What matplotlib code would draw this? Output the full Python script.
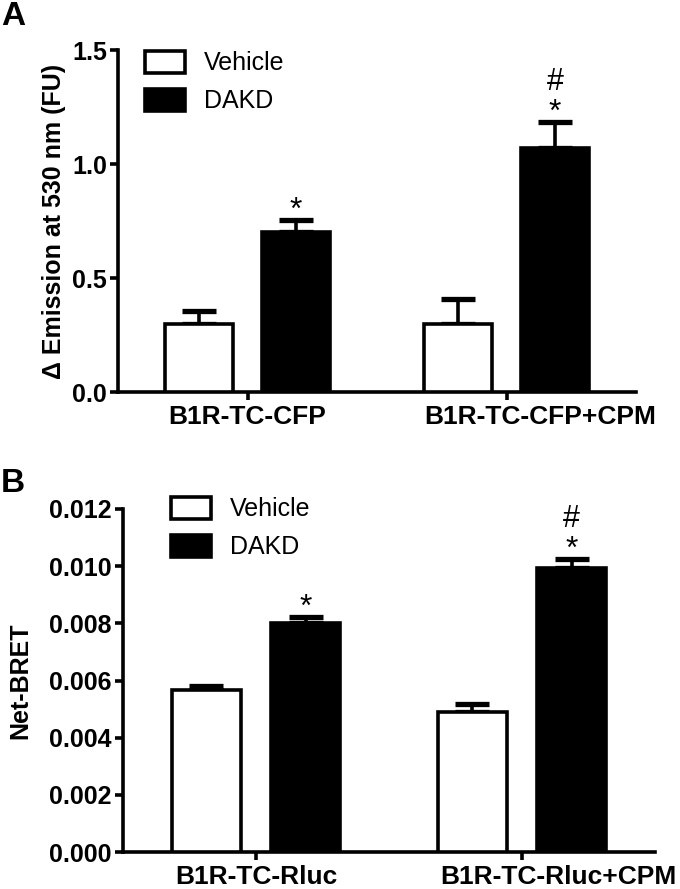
import numpy as np
import matplotlib
matplotlib.use('Agg')
import matplotlib.pyplot as plt
from matplotlib.patches import Patch
from matplotlib.transforms import ScaledTranslation

plt.rcParams['font.family'] = ['Liberation Sans', 'DejaVu Sans']

# panel A data
groups_a = ['B1R-TC-CFP', 'B1R-TC-CFP+CPM']
vehicle_a = [0.30, 0.30]
vehicle_a_err = [0.055, 0.11]
dakd_a = [0.70, 1.07]
dakd_a_err = [0.055, 0.115]
hash_a = [False, True]

# panel B data
groups_b = ['B1R-TC-Rluc', 'B1R-TC-Rluc+CPM']
vehicle_b = [0.00568, 0.00491]
vehicle_b_err = [0.00014, 0.00028]
dakd_b = [0.00800, 0.00995]
dakd_b_err = [0.00022, 0.00030]
hash_b = [False, True]

LW = 2.6
W = 0.26
OFF = 0.187


def draw_panel(fig, ax, groups, veh, veh_err, dak, dak_err, hashes, ylim, yticks, fmt,
               ylabel, labelpad, shift):
    x = np.arange(len(groups))
    ax.bar(x - OFF, veh, W, color='white', edgecolor='black', linewidth=LW, zorder=3)
    ax.bar(x + OFF, dak, W, color='black', edgecolor='black', linewidth=LW, zorder=3)
    zeros = np.zeros(len(groups))
    ax.errorbar(x - OFF, veh, yerr=[zeros, veh_err], fmt='none', ecolor='black',
                elinewidth=LW, capsize=12.5, capthick=3.8, zorder=2)
    ax.errorbar(x + OFF, dak, yerr=[zeros, dak_err], fmt='none', ecolor='black',
                elinewidth=LW, capsize=12.5, capthick=3.8, zorder=2)
    # significance marks above the DAKD bars
    for xi, v, e, h in zip(x + OFF, dak, dak_err, hashes):
        ax.annotate('*', xy=(xi, v + e), xytext=(0, 0.5), textcoords='offset points',
                    ha='center', va='baseline', fontsize=23)
        if h:
            ax.annotate('#', xy=(xi, v + e), xytext=(0, 23), textcoords='offset points',
                        ha='center', va='baseline', fontsize=22)

    ax.set_xlim(-0.5, 1.5)
    ax.set_ylim(*ylim)
    ax.set_yticks(yticks)
    ax.set_yticklabels([fmt.format(t) for t in yticks])
    ax.set_xticks(x)
    ax.set_xticklabels(groups)
    ax.set_ylabel(ylabel, fontsize=18, fontweight='bold', labelpad=labelpad)
    ax.tick_params(axis='both', width=LW, length=6, direction='out')
    ax.tick_params(axis='y', labelsize=18, pad=2)
    ax.tick_params(axis='x', labelsize=19, pad=3)
    for lab in ax.get_xticklabels() + ax.get_yticklabels():
        lab.set_fontweight('bold')
    # the second group label sits a bit right of its tick in the original
    lab = ax.get_xticklabels()[1]
    lab.set_transform(lab.get_transform() + ScaledTranslation(shift / 100, 0, fig.dpi_scale_trans))
    for s in ['top', 'right']:
        ax.spines[s].set_visible(False)
    for s in ['left', 'bottom']:
        ax.spines[s].set_linewidth(LW)


fig = plt.figure(figsize=(6.8, 8.89), dpi=100)
ax1 = fig.add_axes([118 / 680, 1 - 392 / 889, (636 - 118) / 680, (392 - 50) / 889])
ax2 = fig.add_axes([123 / 680, 1 - 852 / 889, (655 - 123) / 680, (852 - 509) / 889])

draw_panel(fig, ax1, groups_a, vehicle_a, vehicle_a_err, dakd_a, dakd_a_err, hash_a,
           (0, 1.5), [0.0, 0.5, 1.0, 1.5], '{:.1f}', 'Δ Emission at 530 nm (FU)', 4, 34)
draw_panel(fig, ax2, groups_b, vehicle_b, vehicle_b_err, dakd_b, dakd_b_err, hash_b,
           (0, 0.012), [0.0, 0.002, 0.004, 0.006, 0.008, 0.010, 0.012], '{:.3f}',
           'Net-BRET', 12, 36)

handles = [Patch(facecolor='white', edgecolor='black', linewidth=LW, label='Vehicle'),
           Patch(facecolor='black', edgecolor='black', linewidth=LW, label='DAKD')]
for ax, (lx, ly) in [(ax1, (145, 51)), (ax2, (171, 497))]:
    ax.legend(handles=handles, loc='upper left', bbox_to_anchor=(lx / 680, 1 - ly / 889),
              bbox_transform=fig.transFigure, frameon=False, fontsize=18,
              handlelength=1.6, handleheight=0.95, handletextpad=0.75,
              labelspacing=0.55, borderpad=0, borderaxespad=0)

fig.text(1 / 680, 1 - 1 / 889, 'A', fontsize=24, fontweight='bold', va='top')
fig.text(1 / 680, 1 - 468 / 889, 'B', fontsize=24, fontweight='bold', va='top')

fig.savefig('out.png', dpi=100)
